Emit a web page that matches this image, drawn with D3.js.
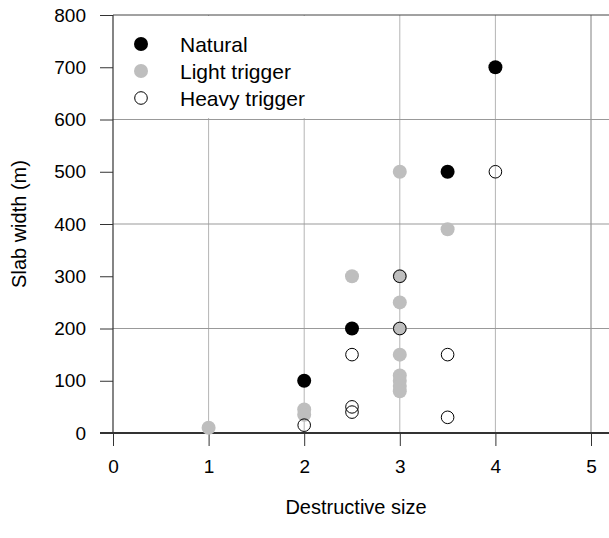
<!DOCTYPE html>
<html><head><meta charset="utf-8">
<script src="https://cdn.jsdelivr.net/npm/d3@7"></script>
<style>body{margin:0;background:#fff}svg{display:block}text{font-family:"Liberation Sans",Arial,sans-serif;fill:#000}</style>
</head><body>
<script>
const xTicks = [0,1,2,3,4,5];
const yTicks = [0,100,200,300,400,500,600,700,800];
const yGrid = [200,400,600];
const xGrid = [1,2,3,4,5];
const seriesNames = ["Natural","Light trigger","Heavy trigger"];
const naturalX = [2,2.5,3.5,4];
const naturalY = [100,200,500,700];
const lightX = [1,2,2,2.5,3,3,3,3,3,3,3,3,3,3.5];
const lightY = [10,45,35,300,500,300,250,200,150,110,100,90,80,390];
const heavyX = [2,2.5,2.5,2.5,3,3,3.5,3.5,4];
const heavyY = [15,150,50,40,300,200,150,30,500];
const xTitle = "Destructive size";
const yTitle = "Slab width (m)";

const W=609,H=538, FS=19, FL=20, FLeg=21;
const svg=d3.select("body").append("svg").attr("width",W).attr("height",H);
const x=d3.scaleLinear().domain([0,5]).range([113,591]);
const y=d3.scaleLinear().domain([0,800]).range([433,15]);

// gridlines
svg.selectAll(".vg").data(xGrid).enter().append("line")
 .attr("x1",d=>x(d)).attr("x2",d=>x(d)).attr("y1",y(800)).attr("y2",y(0))
 .attr("stroke",d=>d===5?"#808080":"#b4b4b4").attr("stroke-width",1);
svg.selectAll(".hg").data(yGrid).enter().append("line")
 .attr("x1",x(0)).attr("x2",W).attr("y1",d=>y(d)).attr("y2",d=>y(d))
 .attr("stroke","#999").attr("stroke-width",1);
// top border
svg.append("line").attr("x1",x(0)).attr("x2",W).attr("y1",y(800)).attr("y2",y(800)).attr("stroke","#444");

// legend background
svg.append("rect").attr("x",x(0)+1).attr("y",y(800)+1).attr("width",205).attr("height",102).attr("fill","#fff");

// axes
const yAxis=d3.axisLeft(y).tickValues(yTicks).tickSize(13).tickPadding(14).tickFormat(d3.format("d"));
const gy=svg.append("g").attr("transform",`translate(${x(0)},0)`).call(yAxis);
const xAxis=d3.axisBottom(x).tickValues(xTicks).tickSize(13).tickPadding(14).tickFormat(d3.format("d"));
const gx=svg.append("g").attr("transform",`translate(0,${y(0)})`).call(xAxis);
[gx,gy].forEach(g=>{g.select(".domain").remove();g.selectAll("line").attr("stroke","#333");g.selectAll("text").attr("font-size",FS).attr("font-family","Liberation Sans, Arial, sans-serif");});
svg.append("line").attr("x1",x(0)).attr("x2",x(0)).attr("y1",y(800)).attr("y2",y(0)).attr("stroke","#333").attr("stroke-width",1.2);
svg.append("line").attr("x1",100).attr("x2",W).attr("y1",y(0)).attr("y2",y(0)).attr("stroke","#333").attr("stroke-width",2);

// titles
svg.append("text").attr("x",(x(0)+x(5))/2+4).attr("y",514).attr("text-anchor","middle").attr("font-size",FL).text(xTitle);
svg.append("text").attr("transform",`translate(26,${y(400)}) rotate(-90)`).attr("text-anchor","middle").attr("font-size",FL).text(yTitle);

// points
const R=7;
const nat=naturalX.map((v,i)=>({x:v,y:naturalY[i]}));
const lig=lightX.map((v,i)=>({x:v,y:lightY[i]}));
const hev=heavyX.map((v,i)=>({x:v,y:heavyY[i]}));
svg.selectAll(".n").data(nat).enter().append("circle").attr("cx",d=>x(d.x)).attr("cy",d=>y(d.y)).attr("r",R).attr("fill","#000");
svg.selectAll(".l").data(lig).enter().append("circle").attr("cx",d=>x(d.x)).attr("cy",d=>y(d.y)).attr("r",R).attr("fill","#bebebe");
svg.selectAll(".h").data(hev).enter().append("circle").attr("cx",d=>x(d.x)).attr("cy",d=>y(d.y)).attr("r",6.3).attr("fill","none").attr("stroke","#000").attr("stroke-width",1);

// legend
const lg=svg.append("g");
const ly=[44,71,98];
seriesNames.forEach((s,i)=>{
  if(i<2) lg.append("circle").attr("cx",141).attr("cy",ly[i]).attr("r",R).attr("fill",i===0?"#000":"#bebebe");
  else lg.append("circle").attr("cx",141).attr("cy",ly[i]).attr("r",6.3).attr("fill","none").attr("stroke","#000");
  lg.append("text").attr("x",180).attr("y",ly[i]).attr("dy","0.36em").attr("font-size",FLeg).text(s);
});
</script>
</body></html>
